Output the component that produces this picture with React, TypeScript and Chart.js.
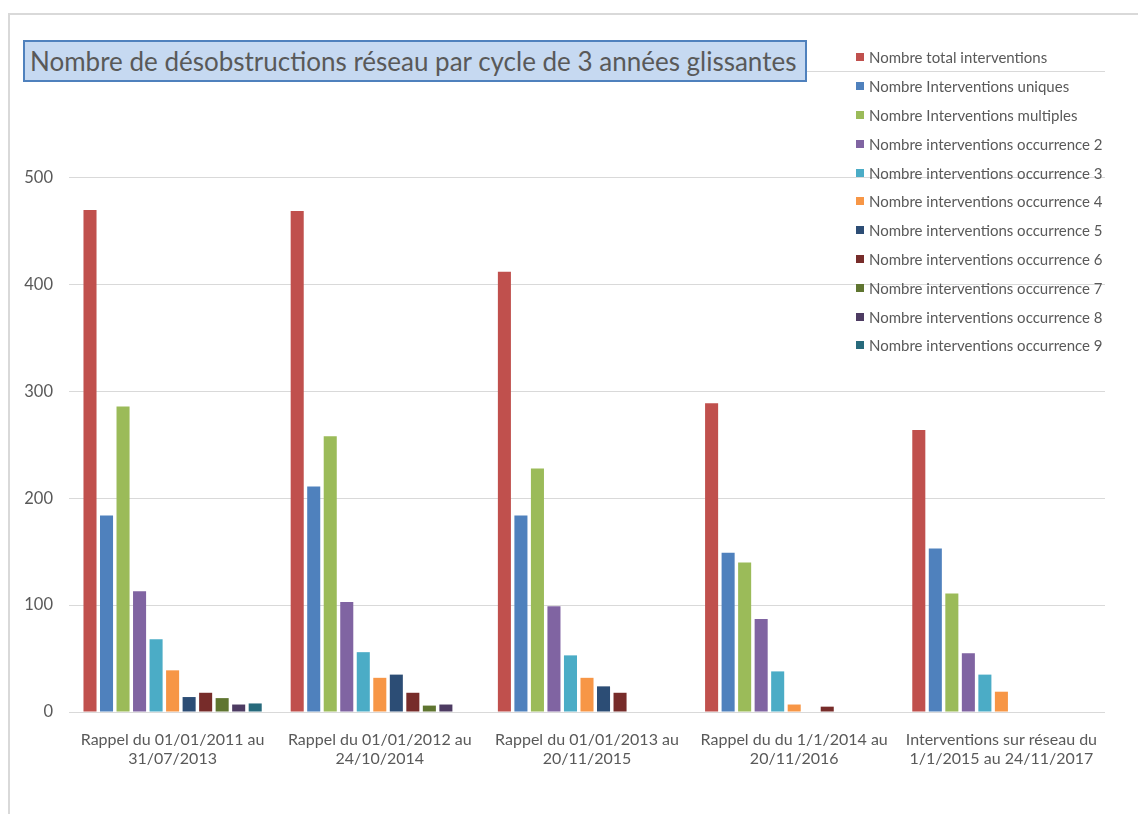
import React, { useEffect, useRef } from "react";
import { Chart, registerables } from "chart.js";

Chart.register(...registerables);

const categories: string[][] = [
  ["Rappel du 01/01/2011 au", "31/07/2013"],
  ["Rappel du 01/01/2012 au", "24/10/2014"],
  ["Rappel du 01/01/2013 au", "20/11/2015"],
  ["Rappel du du 1/1/2014 au", "20/11/2016"],
  ["Interventions sur réseau du", "1/1/2015 au 24/11/2017"],
];

const seriesLabels = [
  "Nombre total interventions",
  "Nombre Interventions uniques",
  "Nombre Interventions multiples",
  "Nombre interventions occurrence 2",
  "Nombre interventions occurrence 3",
  "Nombre interventions occurrence 4",
  "Nombre interventions occurrence 5",
  "Nombre interventions occurrence 6",
  "Nombre interventions occurrence 7",
  "Nombre interventions occurrence 8",
  "Nombre interventions occurrence 9",
];

const totalInterventions = [470, 469, 412, 289, 264];
const uniques = [184, 211, 184, 149, 153];
const multiples = [286, 258, 228, 140, 111];
const occ2 = [113, 103, 99, 87, 55];
const occ3 = [68, 56, 53, 38, 35];
const occ4 = [39, 32, 32, 7, 19];
const occ5 = [14, 35, 24, null, null];
const occ6 = [18, 18, 18, 5, null];
const occ7 = [13, 6, null, null, null];
const occ8 = [7, 7, null, null, null];
const occ9 = [8, null, null, null, null];

const seriesValues = [
  totalInterventions,
  uniques,
  multiples,
  occ2,
  occ3,
  occ4,
  occ5,
  occ6,
  occ7,
  occ8,
  occ9,
];

const colors = [
  "#C0504D",
  "#4F81BD",
  "#9BBB59",
  "#8064A2",
  "#4BACC6",
  "#F79646",
  "#2C4D75",
  "#772C2A",
  "#5F7530",
  "#4D3B62",
  "#276A7C",
];

const yTicks = [0, 100, 200, 300, 400, 500, 600];

const FONT = "Lato, 'Open Sans', sans-serif";
const TEXT = "#595959";

export default function App() {
  const canvasRef = useRef<HTMLCanvasElement | null>(null);

  useEffect(() => {
    if (!canvasRef.current) return;
    const chart = new Chart(canvasRef.current, {
      type: "bar",
      data: {
        labels: categories,
        datasets: seriesLabels.map((label, i) => ({
          label,
          data: seriesValues[i] as any,
          backgroundColor: colors[i],
          borderWidth: 0,
          categoryPercentage: 0.877,
          barPercentage: 0.79,
        })),
      },
      options: {
        responsive: false,
        devicePixelRatio: 1,
        animation: false,
        layout: { padding: { left: 0, right: 33, top: 71, bottom: 0 } },
        plugins: {
          legend: { display: false },
          title: { display: false },
          tooltip: { enabled: false },
        },
        scales: {
          x: {
            grid: { display: false, drawTicks: false },
            border: { display: false },
            ticks: {
              color: TEXT,
              font: { family: FONT, size: 16, lineHeight: 1.2 },
              padding: 18,
              maxRotation: 0,
              autoSkip: false,
            },
            afterFit: (axis: any) => {
              axis.height = 102;
            },
          },
          y: {
            min: 0,
            max: 600,
            afterBuildTicks: (axis: any) => {
              axis.ticks = yTicks.map((v) => ({ value: v }));
            },
            grid: { color: "#D9D9D9", lineWidth: 1, drawTicks: false },
            border: { display: false },
            ticks: {
              color: TEXT,
              font: { family: FONT, size: 16.5 },
              padding: 16,
            },
            afterFit: (axis: any) => {
              axis.width = 69;
            },
          },
        },
      },
    });
    return () => chart.destroy();
  }, []);

  return (
    <div
      style={{
        position: "fixed",
        left: 0,
        top: 0,
        width: 1138,
        height: 814,
        background: "#fff",
        overflow: "hidden",
      }}
    >
      <div
        style={{
          position: "absolute",
          left: 8,
          top: 13,
          width: 1200,
          height: 900,
          borderTop: "2px solid #D9D9D9",
          borderLeft: "2px solid #D9D9D9",
        }}
      />
      <canvas
        ref={canvasRef}
        width={1138}
        height={814}
        style={{ position: "absolute", left: 0, top: 0, width: 1138, height: 814 }}
      />
      <div
        style={{
          position: "absolute",
          left: 23,
          top: 40,
          width: 775,
          height: 38,
          background: "#C6D9F1",
          border: "2px solid #4F81BD",
          color: TEXT,
          fontFamily: FONT,
          fontSize: 26,
          lineHeight: "38px",
          paddingLeft: 5,
          boxSizing: "content-box",
          whiteSpace: "nowrap",
        }}
      >
        Nombre de désobstructions réseau par cycle de 3 années glissantes
      </div>
      <div
        style={{
          position: "absolute",
          left: 856,
          top: 43,
          fontFamily: FONT,
          fontSize: 15,
          color: TEXT,
        }}
      >
        {seriesLabels.map((label, i) => (
          <div
            key={label}
            style={{
              height: 28.8,
              display: "flex",
              alignItems: "center",
              whiteSpace: "nowrap",
            }}
          >
            <span
              style={{
                display: "inline-block",
                width: 8,
                height: 8,
                background: colors[i],
                marginRight: 5,
              }}
            />
            <span>{label}</span>
          </div>
        ))}
      </div>
    </div>
  );
}
